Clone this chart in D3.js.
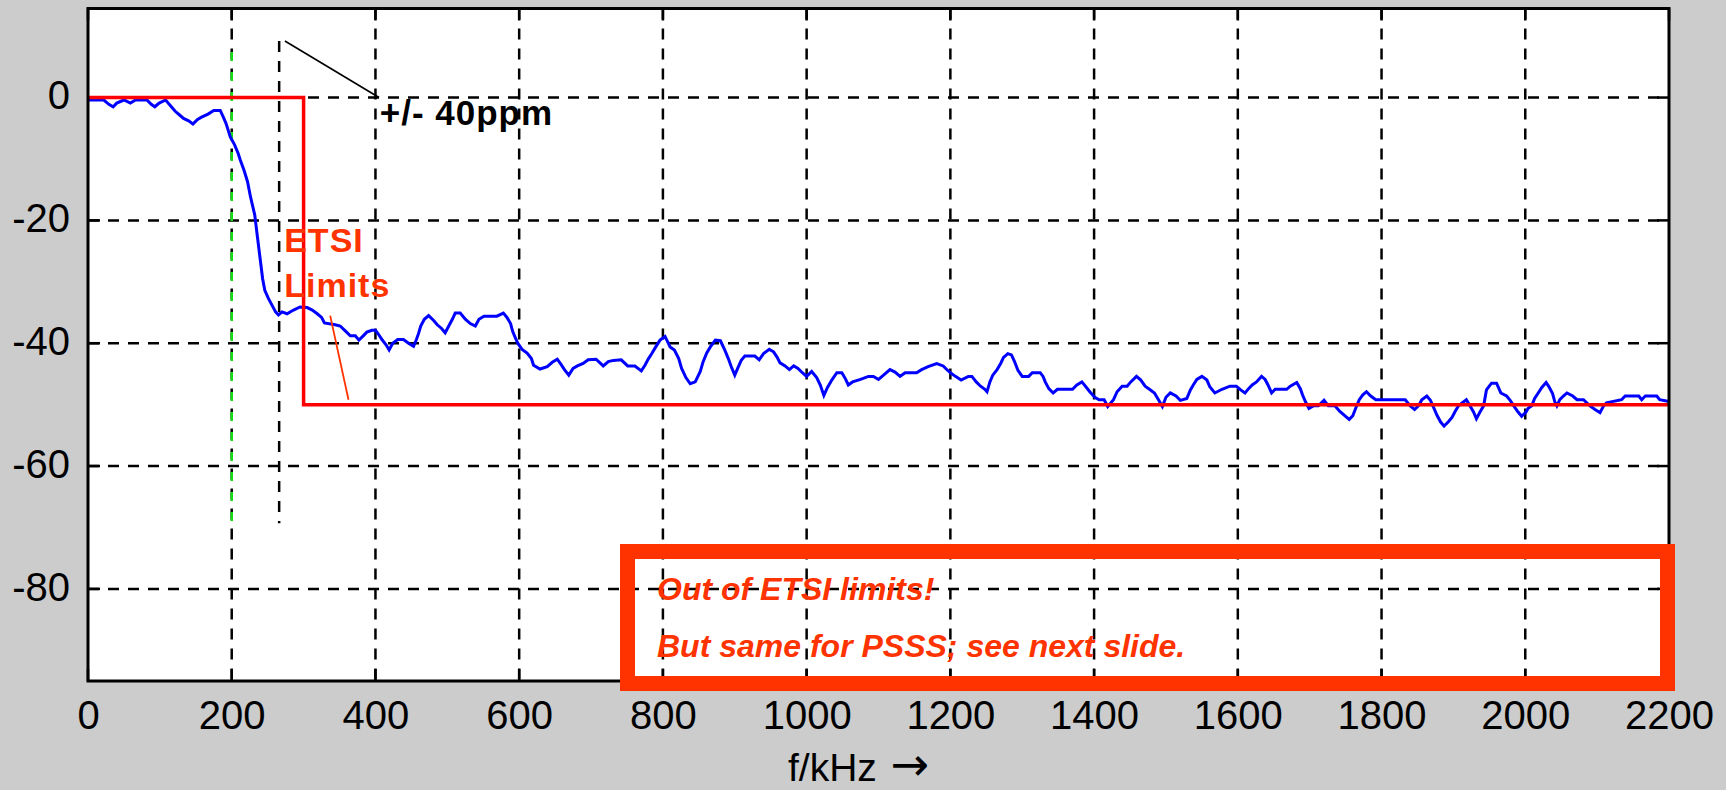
<!DOCTYPE html>
<html><head><meta charset="utf-8">
<script src="https://cdn.jsdelivr.net/npm/d3@7"></script>
<style>
html,body{margin:0;padding:0;background:#cccccc;}
svg{display:block;}
</style></head><body>
<svg id="chart" width="1726" height="790"></svg>
<script>
// ---------- data ----------
const xTicks = [0,200,400,600,800,1000,1200,1400,1600,1800,2000,2200];
const yTicks = [-80,-60,-40,-20,0];

// measured spectrum: frequency (kHz) and level (dB)
const freq = [
  0,22,29,35,40,50,59,66,82,88,
  93,99,108,116,121,127,133,140,146,152,
  158,167,175,184,188,192,195,198,204,209,
  212,217,222,226,232,236,240,243,246,251,
  256,261,265,270,277,286,295,305,312,319,
  325,329,344,351,358,365,372,377,383,388,
  395,400,404,409,415,419,424,431,439,446,
  453,457,460,463,468,474,481,486,492,497,
  502,507,511,518,525,532,539,544,551,569,
  578,583,588,591,595,598,604,611,617,620,
  629,639,646,653,658,663,669,675,681,689,
  696,707,717,724,731,742,751,761,770,775,
  780,785,790,796,803,810,816,822,826,832,
  838,845,852,856,861,866,873,880,886,891,
  895,900,904,909,914,928,934,940,948,954,
  959,963,970,976,982,988,994,1000,1007,1014,
  1019,1024,1029,1035,1042,1049,1054,1058,1064,1075,
  1086,1093,1100,1107,1116,1123,1130,1137,1153,1160,
  1169,1181,1190,1196,1201,1207,1215,1225,1230,1236,
  1242,1248,1251,1255,1259,1265,1270,1274,1280,1285,
  1289,1294,1300,1309,1314,1325,1329,1332,1337,1343,
  1349,1370,1376,1383,1388,1394,1401,1407,1414,1419,
  1427,1432,1439,1446,1451,1459,1465,1471,1477,1484,
  1490,1495,1500,1506,1514,1520,1529,1534,1538,1543,
  1550,1557,1561,1568,1578,1589,1598,1604,1610,1615,
  1620,1626,1633,1638,1642,1647,1652,1668,1673,1682,
  1687,1690,1694,1699,1705,1712,1720,1726,1735,1742,
  1750,1755,1760,1765,1769,1774,1779,1785,1792,1815,
  1833,1840,1846,1852,1856,1863,1868,1873,1877,1882,
  1887,1893,1898,1902,1907,1918,1923,1928,1932,1937,
  1942,1946,1953,1960,1966,1974,1979,1984,1990,1995,
  2001,2004,2009,2013,2018,2023,2029,2033,2038,2041,
  2044,2048,2053,2058,2066,2072,2081,2090,2097,2104,
  2109,2113,2134,2139,2158,2162,2167,2183,2187,2200
];
const level = [
  -0.4,-0.4,-1.1,-1.5,-0.9,-0.4,-0.9,-0.4,-0.4,-1.1,
  -1.5,-0.9,-0.4,-1.5,-2.2,-2.8,-3.4,-3.8,-4.3,-3.6,
  -3.2,-2.7,-2.1,-2.1,-3.1,-4.2,-5.3,-6.4,-7.7,-9.1,
  -10.2,-11.8,-13.7,-16.1,-19.1,-22.9,-26.7,-29.5,-31.4,-32.7,
  -33.8,-34.9,-35.4,-34.9,-35.2,-34.6,-34.1,-34.2,-34.6,-35.2,
  -35.8,-36.7,-37.0,-37.2,-38.0,-38.8,-38.8,-39.5,-38.8,-38.2,
  -37.9,-37.9,-38.5,-39.4,-40.3,-41.1,-40.0,-39.4,-39.4,-40.0,
  -40.5,-39.4,-38.4,-37.2,-36.1,-35.5,-36.3,-37.0,-37.6,-38.3,
  -37.2,-36.1,-35.1,-35.1,-36.1,-36.8,-37.2,-36.1,-35.6,-35.6,
  -35.1,-35.8,-36.8,-38.1,-39.2,-40.0,-41.0,-41.6,-42.5,-43.6,
  -44.2,-43.8,-43.1,-42.6,-43.4,-44.3,-45.2,-44.1,-43.7,-43.3,
  -42.7,-42.6,-43.7,-43.0,-42.8,-42.7,-43.7,-43.7,-44.5,-43.6,
  -42.5,-41.6,-40.6,-39.5,-38.9,-40.6,-41.1,-42.5,-44.1,-45.6,
  -46.6,-46.3,-44.6,-43.0,-41.6,-40.6,-39.5,-39.6,-41.1,-42.5,
  -43.8,-45.2,-44.1,-42.8,-42.1,-42.1,-42.7,-41.7,-41.0,-41.4,
  -42.3,-43.2,-43.7,-44.3,-43.7,-44.1,-44.8,-45.4,-44.6,-45.6,
  -46.8,-48.5,-47.2,-46.0,-44.8,-44.8,-45.8,-46.8,-46.3,-45.9,
  -45.4,-45.4,-45.9,-45.2,-44.3,-44.7,-45.4,-44.8,-44.8,-44.3,
  -43.8,-43.3,-43.7,-44.4,-44.9,-45.4,-46.0,-45.4,-45.4,-46.3,
  -47.0,-47.5,-47.9,-46.3,-45.2,-44.3,-43.3,-42.3,-41.7,-41.9,
  -42.9,-44.4,-45.4,-45.4,-44.8,-44.8,-45.4,-46.3,-47.4,-48.1,
  -47.5,-47.5,-46.8,-46.3,-47.0,-47.9,-48.8,-49.2,-49.2,-50.3,
  -49.2,-47.9,-47.0,-47.0,-46.3,-45.4,-46.0,-47.0,-47.5,-48.1,
  -49.3,-50.3,-48.8,-48.1,-48.6,-49.3,-49.0,-47.6,-46.8,-45.9,
  -45.4,-46.0,-47.1,-48.1,-47.5,-47.0,-47.0,-47.6,-48.1,-47.4,
  -46.8,-46.3,-45.4,-45.9,-46.8,-48.1,-47.5,-47.5,-47.0,-46.4,
  -47.4,-48.4,-49.5,-50.6,-50.2,-50.2,-49.3,-50.2,-50.2,-51.1,
  -51.9,-52.4,-51.8,-50.3,-49.2,-48.4,-47.9,-48.6,-49.2,-49.2,
  -49.2,-50.2,-50.8,-50.1,-49.2,-48.6,-49.3,-50.6,-51.7,-52.8,
  -53.5,-52.8,-52.1,-51.2,-50.2,-49.2,-50.2,-51.2,-52.3,-51.2,
  -50.2,-47.6,-46.5,-46.5,-48.1,-48.6,-49.3,-50.2,-51.2,-51.9,
  -51.2,-50.6,-50.2,-49.0,-48.1,-47.2,-46.4,-47.1,-48.2,-49.5,
  -50.2,-49.2,-48.6,-48.1,-48.6,-49.2,-49.2,-50.2,-50.8,-51.3,
  -50.2,-49.7,-49.2,-48.6,-48.6,-49.2,-48.6,-48.6,-49.2,-49.5
];

// ETSI spectrum mask
const limitFreq  = [0, 300, 300, 2200];
const limitLevel = [0, 0, -50, -50];

// vertical marker lines (channel edge, +/-40ppm offset)
const markerFreq  = [200, 266];
const markerSpan  = [9.2, -69.3];

// annotation pointer lines
const ppmLineFreq  = [274, 405];
const ppmLineLevel = [9.2, 0];
const etsiLineFreq  = [337, 362.5];
const etsiLineLevel = [-35.5, -49.2];

const ppmLabel  = "+/- 40ppm";
const etsiLabel = ["ETSI", "Limits"];
const boxLines  = ["Out of ETSI limits!", "But same for PSSS; see next slide."];
const xTitle = "f/kHz";
const xTitleArrow = "\u2192";

// ---------- drawing ----------
const FONT = "'Liberation Sans', Arial, Helvetica, sans-serif";
const ORANGE = "#ff3300";
const svg = d3.select("#chart");

const L = 88, R = 1669, T = 8.5, B = 681;
const x = d3.scaleLinear().domain([0, 2200]).range([L, R]);
const y = d3.scaleLinear().domain([-95, 14.5]).range([B, T]);

svg.append("rect").attr("x",0).attr("y",0).attr("width",1726).attr("height",790).attr("fill","#cccccc");
svg.append("rect").attr("x",L).attr("y",T).attr("width",R-L).attr("height",B-T).attr("fill","#ffffff");

// grid
const grid = svg.append("g").attr("stroke","#000").attr("stroke-width",2.5).attr("stroke-dasharray","11,9");
grid.selectAll("line.v").data(xTicks.slice(1,-1)).join("line").attr("class","v")
  .attr("x1",d=>x(d)).attr("x2",d=>x(d)).attr("y1",T).attr("y2",B);
grid.selectAll("line.h").data(yTicks).join("line").attr("class","h")
  .attr("x1",L).attr("x2",R).attr("y1",d=>y(d)).attr("y2",d=>y(d));

// inner ticks (all four sides)
const tk = svg.append("g").attr("stroke","#000").attr("stroke-width",2.5);
const TL = 12;
xTicks.forEach(d=>{
  tk.append("line").attr("x1",x(d)).attr("x2",x(d)).attr("y1",B).attr("y2",B-TL);
  tk.append("line").attr("x1",x(d)).attr("x2",x(d)).attr("y1",T).attr("y2",T+TL);
});
yTicks.forEach(d=>{
  tk.append("line").attr("x1",L).attr("x2",L+TL).attr("y1",y(d)).attr("y2",y(d));
  tk.append("line").attr("x1",R).attr("x2",R-TL).attr("y1",y(d)).attr("y2",y(d));
});

// marker lines
svg.append("line").attr("x1",x(markerFreq[0])).attr("x2",x(markerFreq[0]))
  .attr("y1",y(markerSpan[0])).attr("y2",y(markerSpan[1]))
  .attr("stroke","#16dd16").attr("stroke-width",2.6).attr("stroke-dasharray","9,11").attr("stroke-dashoffset",-11);
svg.append("line").attr("x1",x(markerFreq[1])).attr("x2",x(markerFreq[1]))
  .attr("y1",y(markerSpan[0])).attr("y2",y(markerSpan[1]))
  .attr("stroke","#000").attr("stroke-width",2.5).attr("stroke-dasharray","11,9");

// spectrum
const pts = freq.map((f,i)=>[f, level[i]]);
svg.append("path").datum(pts)
  .attr("d", d3.line().x(d=>x(d[0])).y(d=>y(d[1])))
  .attr("fill","none").attr("stroke","#0000ff").attr("stroke-width",3).attr("stroke-linejoin","miter");

// ETSI limit mask
const lim = limitFreq.map((f,i)=>[f, limitLevel[i]]);
svg.append("path").datum(lim)
  .attr("d", d3.line().x(d=>x(d[0])).y(d=>y(d[1])))
  .attr("fill","none").attr("stroke","#ff0000").attr("stroke-width",3.5);

// plot border
svg.append("rect").attr("x",L).attr("y",T).attr("width",R-L).attr("height",B-T)
  .attr("fill","none").attr("stroke","#000").attr("stroke-width",3);

// axes
const xAxis = d3.axisBottom(x).tickValues(xTicks).tickSize(0).tickPadding(19.6).tickFormat(d=>String(d));
const gx = svg.append("g").attr("transform",`translate(0,${B})`).call(xAxis);
gx.select(".domain").remove();
gx.selectAll("text").attr("font-family",FONT).attr("font-size",40).attr("fill","#000");

const yAxis = d3.axisLeft(y).tickValues(yTicks).tickSize(0).tickPadding(18).tickFormat(d=>String(d));
const gy = svg.append("g").attr("transform",`translate(${L},0)`).call(yAxis);
gy.select(".domain").remove();
gy.selectAll("text").attr("font-family",FONT).attr("font-size",40).attr("fill","#000").attr("dy","0.28em");

// x title
const tt = svg.append("text").attr("x",788).attr("y",781).attr("font-family",FONT).attr("font-size",39)
  .attr("fill","#000");
tt.append("tspan").text(xTitle);
tt.append("tspan").attr("dx",14).attr("font-family","'DejaVu Sans', sans-serif").attr("font-size",46)
  .attr("dy",-1).text(xTitleArrow);

// +/-40ppm annotation
svg.append("line").attr("x1",x(ppmLineFreq[0])).attr("y1",y(ppmLineLevel[0]))
  .attr("x2",x(ppmLineFreq[1])).attr("y2",y(ppmLineLevel[1]))
  .attr("stroke","#000").attr("stroke-width",1.6);
svg.append("text").attr("x",x(406)).attr("y",y(-4.5)).attr("font-family",FONT)
  .attr("font-size",35).attr("font-weight","bold").attr("letter-spacing",1).attr("fill","#000").text(ppmLabel);

// ETSI Limits annotation
svg.append("line").attr("x1",x(etsiLineFreq[0])).attr("y1",y(etsiLineLevel[0]))
  .attr("x2",x(etsiLineFreq[1])).attr("y2",y(etsiLineLevel[1]))
  .attr("stroke",ORANGE).attr("stroke-width",1.8);
etsiLabel.forEach((t,i)=>{
  svg.append("text").attr("x",x(273)).attr("y",y(i===0?-25.2:-32.5)).attr("font-family",FONT)
    .attr("font-size",34).attr("font-weight","bold").attr("letter-spacing",1).attr("fill",ORANGE).text(t);
});

// callout box
svg.append("rect").attr("x",627.5).attr("y",551.5).attr("width",1040).attr("height",132)
  .attr("fill","none").attr("stroke",ORANGE).attr("stroke-width",15);
boxLines.forEach((t,i)=>{
  svg.append("text").attr("x",657).attr("y",i===0?600:657).attr("font-family",FONT)
    .attr("font-size",32).attr("font-weight","bold").attr("font-style","italic")
    .attr("fill",ORANGE).text(t);
});
</script>
</body></html>
